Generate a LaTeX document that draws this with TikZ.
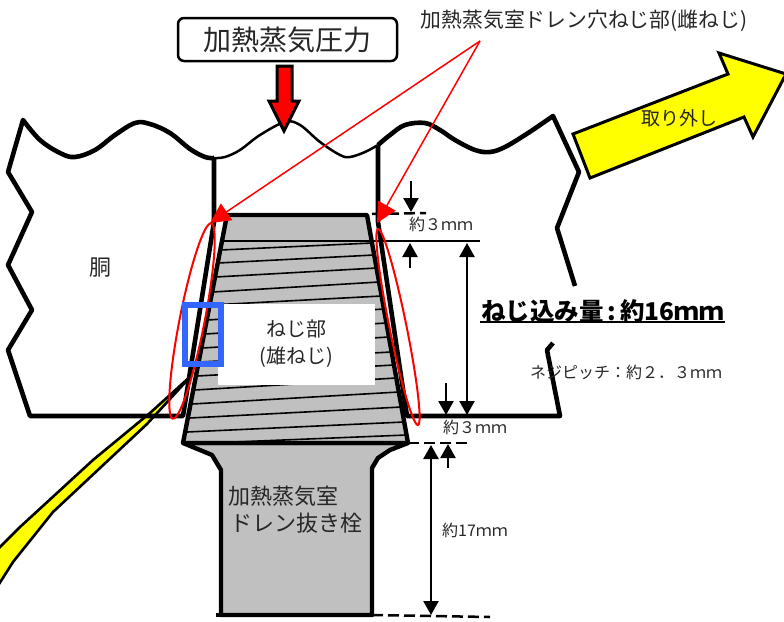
\documentclass[tikz,border=0pt]{standalone}
\usepackage{fontspec}
\setmainfont{Noto Sans CJK JP}
\usetikzlibrary{arrows.meta, positioning, calc}
\definecolor{plugGray}{HTML}{C0C0C0}
\definecolor{markBlue}{HTML}{3366FF}
\definecolor{markYellow}{HTML}{FFFF00}
\newcommand{\px}[1]{\fontsize{#1}{#1}\selectfont}

\begin{document}
\begin{tikzpicture}[
  x=1pt, y=-1pt,
  wall/.style={draw=black, line width=4.6pt, line join=round},
  part/.style={draw=black, fill=plugGray, line width=4.4pt, line join=round},
  thread/.style={draw=black, line width=1.6pt},
  dim/.style={draw=black, line width=2.4pt, -{Triangle[length=14pt, width=15pt]}},
  dimboth/.style={draw=black, line width=2.4pt, {Triangle[length=14pt, width=15pt]}-{Triangle[length=14pt, width=15pt]}},
  guide/.style={draw=black, line width=2.5pt, dashed, dash pattern=on 11pt off 5pt},
  pointer/.style={draw=red, line width=1.5pt, -{Triangle[length=20pt, width=20pt]}},
  ring/.style={draw=red, line width=2pt},
  block/.style={draw=black, fill=markYellow, line join=miter},
  label/.style={inner sep=0pt, text=black!85}
]
  \useasboundingbox (0,0) rectangle (784,621);

  % yellow sliver behind the body
  \draw[block, line width=2.6pt] (192,375) -- (150,413) -- (93,460) -- (20,527) -- (-6,553) -- (-6,592) -- (13,562) -- (53,512) -- (100,468) -- (147,424) -- cycle;

  % body
  \draw[wall] (214,158) -- (214,222) -- (183,416) -- (30,416) -- (8,350) -- (32,310) -- (8,265) -- (32,212) -- (8,172) -- (23,120)
    -- plot[smooth, tension=0.6] coordinates {(23,120) (40,140) (60,153) (75,157) (95,150) (115,135) (135,123) (150,124) (170,133) (190,149) (205,157) (214,158)};
  \draw[wall] (378,145) -- (378,222) -- (407,416) -- (560,416) -- (547,350) -- (553,343);
  \draw[wall] (575,286) -- (557,228) -- (579,172) -- (553,116)
    -- plot[smooth, tension=0.6] coordinates {(553,116) (540,125) (525,135) (505,147) (490,152) (475,150) (455,140) (440,130) (425,123) (405,125) (390,135) (378,145)};
  \draw[black, line width=2.5pt] plot[smooth, tension=0.6] coordinates {(214,158) (225,157) (240,150) (260,135) (285,122) (300,125) (320,142) (340,155) (350,157) (365,152) (378,145)};

  % plug
  \draw[part] (183,443) -- (212,455) -- (221,470) -- (221,615) -- (372,615) -- (372,468) -- (378,458) -- (390,450) -- (408,443) -- cycle;
  \draw[part] (227,215) -- (367,215) -- (408,443) -- (183,443) -- cycle;
  \foreach \yl/\yr in {250/243, 263/255, 277/268, 292/282, 305/296, 320/309, 334/323, 348/337, 362/352, 376/365, 390/378, 404/392, 418/407, 432/422, 444/435}
    \draw[thread] ({227-(\yl-215)*0.184},\yl) -- ({367+(\yr-215)*0.18},\yr);

  % thread label
  \fill[white] (218,304) rectangle (375,385);
  \node[label, align=center, font=\fontsize{20}{27}\selectfont] (thread_label) at (296,344) {ねじ部\\(雄ねじ)};

  % dimension points
  \coordinate (top_a) at (411,181);
  \coordinate (top_b) at (411,212);
  \coordinate (ref_a) at (410,268);
  \coordinate (ref_b) at (410,243);
  \coordinate (ref_l) at (222,241);
  \coordinate (ref_r) at (480,241);
  \coordinate (hole_a) at (467,243);
  \coordinate (hole_b) at (467,415);
  \coordinate (low_a) at (446,383);
  \coordinate (low_b) at (446,415);
  \coordinate (neck_a) at (448,468);
  \coordinate (neck_b) at (448,444);
  \coordinate (len_a) at (431,445);
  \coordinate (len_b) at (431,615);

  \draw[black, line width=2.4pt] (ref_l) -- (ref_r);
  \draw[guide] (372,214) -- (426,213);
  \draw[guide] (408,443) -- (470,443);
  \draw[guide] (372,615) -- (490,617);
  \draw[black, line width=4.4pt] (216,615) -- (372,615);
  \draw[dim] (top_a) -- (top_b);
  \draw[dim] (ref_a) -- (ref_b);
  \draw[dimboth] (hole_a) -- (hole_b);
  \draw[dim] (low_a) -- (low_b);
  \draw[dim] (neck_a) -- (neck_b);
  \draw[dimboth] (len_a) -- (len_b);

  % red marks
  \draw[ring, rotate around={-11.1:(192,321)}] (192,321) ellipse [x radius=12.5, y radius=99.5];
  \draw[ring, rotate around={11.5:(398,327)}] (398,327) ellipse [x radius=8.5, y radius=100];
  \coordinate (apex) at (480,41);
  \coordinate (hole_l) at (210,223);
  \coordinate (hole_r) at (377,223);
  \draw[pointer] (apex) -- (hole_l);
  \draw[pointer] (apex) -- (hole_r);

  % detail frame
  \draw[draw=markBlue, line width=6pt] (185,305) rectangle (221,364);

  % pressure
  \node[label, draw=black, line width=2.5pt, rounded corners=6pt, fill=white, minimum width=219pt, minimum height=43pt, font=\px{28}] (pressure) at (287.5,39.5) {加熱蒸気圧力};
  \draw[draw=black, fill=red, line width=3pt, line join=miter] (277,66) -- (292,66) -- (292,101) -- (299,101) -- (284,131) -- (269,101) -- (277,101) -- cycle;

  % removal arrow
  \draw[block, line width=3pt] (573,134) -- (728,74) -- (719,53) -- (786,74) -- (753,137) -- (744,117) -- (590,178) -- cycle;
  \node[label, font=\px{19}] (removal) at (679,118) {取り外し};

  % texts
  \node[label, font=\px{20.8}] (hole_label) at (584,21) {加熱蒸気室ドレン穴ねじ部(雌ねじ)};
  \node[label, font=\px{22}] (body_label) at (100,268) {胴};
  \node[label, font=\px{22}] (plug_a) at (283,496) {加熱蒸気室};
  \node[label, font=\px{22}] (plug_b) at (296,523) {ドレン抜き栓};
  \node[label, font=\px{16}] (dim_top) at (441,224) {約３ｍｍ};
  \node[label, font=\px{16}] (dim_low) at (475,427) {約３ｍｍ};
  \node[label, font=\px{16}] (dim_len) at (475,530) {約17ｍｍ};
  \node[label, font=\px{16}] (pitch) at (626,372) {ネジピッチ：約２．３ｍｍ};
  \node[font=\px{24.5}\bfseries, inner sep=0pt] (depth) at (602.5,311) {ねじ込み量\hspace{4pt}:\hspace{4pt}約16ｍｍ};
  \draw[black, line width=2.5pt] (480,322) -- (725,322);
\end{tikzpicture}
\end{document}
